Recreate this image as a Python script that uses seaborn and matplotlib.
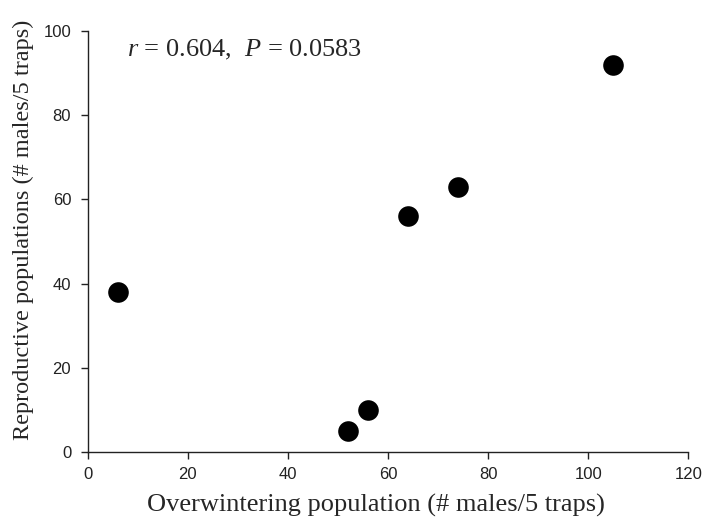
import matplotlib
matplotlib.use("Agg")
import matplotlib.pyplot as plt
import seaborn as sns
import pandas as pd

# data
overwintering = [6, 52, 56, 64, 74, 105]
reproductive = [38, 5, 10, 56, 63, 92]
x_ticks = [0, 20, 40, 60, 80, 100, 120]
y_ticks = [0, 20, 40, 60, 80, 100]

df = pd.DataFrame({"over": overwintering, "repro": reproductive})

sns.set_style("ticks")
plt.rcParams["font.family"] = ["Liberation Serif", "DejaVu Serif"]
plt.rcParams["mathtext.fontset"] = "custom"
plt.rcParams["mathtext.rm"] = "Liberation Serif"
plt.rcParams["mathtext.it"] = "Liberation Serif:italic"

fig = plt.figure(figsize=(7.03, 5.32), dpi=100)
ax = fig.add_axes([0.125, 0.150, 0.854, 0.792])

sns.scatterplot(data=df, x="over", y="repro", ax=ax, color="black",
                s=220, edgecolor="black", linewidth=0, legend=False, zorder=3)

ax.set_xlim(0, 120)
ax.set_ylim(0, 100)
ax.set_xticks(x_ticks)
ax.set_yticks(y_ticks)
for lab in ax.get_xticklabels() + ax.get_yticklabels():
    lab.set_family(["Liberation Sans Narrow", "Liberation Sans", "DejaVu Sans"])
    lab.set_fontsize(12)
    lab.set_color("#222222")
ax.tick_params(axis="y", direction="out", length=5, width=1, colors="#222222", pad=7)
ax.tick_params(axis="x", direction="out", length=5, width=1, colors="#222222", pad=6)

for side in ["top", "right"]:
    ax.spines[side].set_visible(False)
for side in ["left", "bottom"]:
    ax.spines[side].set_linewidth(1)
    ax.spines[side].set_color("#222222")

ax.set_xlabel("Overwintering population (# males/5 traps)", fontsize=19)
ax.set_ylabel("Reproductive populations (# males/5 traps)", fontsize=17.5)
ax.xaxis.set_label_coords(0.48, -0.1)
ax.yaxis.set_label_coords(-0.09, 0.527)

ax.text(7.8, 95.5, r"$r$ = 0.604,  $P$ = 0.0583", fontsize=19,
        va="center", ha="left")

fig.savefig("out.png", dpi=100)
